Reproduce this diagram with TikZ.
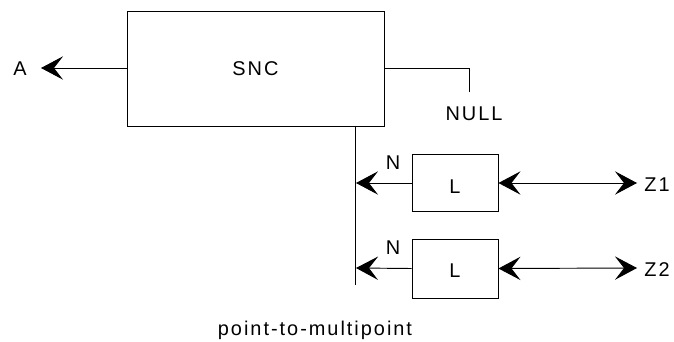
\documentclass[tikz,border=0pt]{standalone}
\usepackage{fontspec}
\setmainfont{Liberation Sans}[LetterSpace=10]
\usepackage{tikz}
\usetikzlibrary{arrows.meta, positioning, calc}
\tikzset{
    bloco/.style  = {draw, line width=0.8pt, inner sep=0pt},
    rotulo/.style = {font=\fontsize{17}{20}\selectfont, inner sep=0pt},
    lig/.style    = {line width=0.8pt},
    seta/.style   = {-{Stealth[length=6.6mm, width=7mm, inset=2.7mm]}, line width=0.8pt},
    dupla/.style  = {{Stealth[length=6.6mm, width=7mm, inset=2.7mm]}-{Stealth[length=6.6mm, width=7mm, inset=2.7mm]}, line width=0.8pt},
}

\begin{document}
\begin{tikzpicture}[x=0.03cm, y=-0.03cm]
        \useasboundingbox (0,0) rectangle (674,342);
        \node[bloco, minimum width=7.71cm, minimum height=3.45cm] (snc) at (255.5,68.5) {};
        \node[rotulo] at (snc.center) {SNC};
        \node[rotulo] (a) at (20,69) {A};
        \coordinate (pa) at (41,68);
        \draw[seta] (snc.west |- pa) -- (pa);
        \coordinate (nulo) at (469,92);
        \draw[lig] (384,68) -| (nulo);
        \node[rotulo] (null) at (474,114) {NULL};
        \coordinate (topo) at (355,126);
        \coordinate (base) at (355,285);
        \draw[lig] (topo) -- (base);
        \node[bloco, minimum width=2.58cm, minimum height=1.71cm] (l1) at (455,183) {};
        \node[rotulo] at ($(l1.center)+(0,4)$) {L};
        \node[bloco, minimum width=2.58cm, minimum height=1.77cm] (l2) at (455,268.5) {};
        \node[rotulo] at ($(l2.center)+(0,2)$) {L};
        \coordinate (b1) at (356,183);
        \coordinate (b2) at (356,268);
        \draw[seta] (l1.west) -- (b1);
        \draw[seta] (l2.west) -- (b2);
        \node[rotulo] (n1) at (393,163) {N};
        \node[rotulo] (n2) at (393,248) {N};
        \coordinate (z1) at (637,183);
        \coordinate (z2) at (637,268);
        \draw[dupla] (l1.east) -- (z1);
        \node[rotulo] (z1t) at (657,185) {Z1};
        \draw[dupla] (l2.east) -- (z2);
        \node[rotulo] (z2t) at (657,270) {Z2};
        \node[rotulo] (pm) at (315,330) {point-to-multipoint};
    \end{tikzpicture}
\end{document}
